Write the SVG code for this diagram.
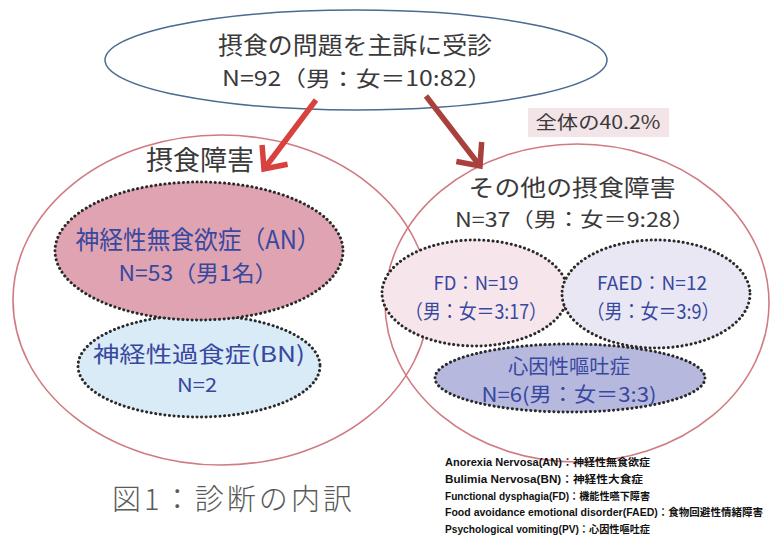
<svg xmlns="http://www.w3.org/2000/svg" width="774" height="535" viewBox="0 0 774 535">
<defs>
<style>
.jp{font-family:"Noto Sans CJK JP","Noto Sans",sans-serif;}
.gray{fill:#3a3a3a;}
.blue{fill:#3848a0;}
.dot{stroke:#2a2a2a;stroke-width:3;stroke-dasharray:0.1 4.5;stroke-linecap:round;}
.big{fill:none;stroke:#d07a82;stroke-width:1.6;}
.leg{font-family:"Liberation Sans","Noto Sans CJK JP",sans-serif;font-size:10px;font-weight:bold;fill:#111;}
</style>
<marker id="chevL" markerUnits="userSpaceOnUse" markerWidth="44" markerHeight="44" refX="21" refY="22" orient="auto" viewBox="0 0 44 44">
<path d="M3,6 L21,22 L3,38" fill="none" stroke="#d8423e" stroke-width="5.5" stroke-linejoin="miter"/>
</marker>
<marker id="chevR" markerUnits="userSpaceOnUse" markerWidth="44" markerHeight="44" refX="21" refY="22" orient="auto" viewBox="0 0 44 44">
<path d="M3,6 L21,22 L3,38" fill="none" stroke="#a8403c" stroke-width="5.5" stroke-linejoin="miter"/>
</marker>
</defs>
<rect width="774" height="535" fill="#ffffff"/>

<g id="top">
<ellipse cx="356" cy="60" rx="251" ry="50" fill="#ffffff" stroke="#4a6a90" stroke-width="1.5"/>
<text class="jp gray" x="355" y="54" font-size="24" text-anchor="middle" textLength="274" lengthAdjust="spacingAndGlyphs">摂食の問題を主訴に受診</text>
<text class="jp gray" x="357" y="86" font-size="21" text-anchor="middle" textLength="270" lengthAdjust="spacingAndGlyphs">N=92（男：女＝10:82）</text>
</g>

<g id="ed-group">
<ellipse class="big" cx="221" cy="300" rx="208" ry="165"/>
<text class="jp gray" x="200" y="170" font-size="27" text-anchor="middle">摂食障害</text>
</g>

<g id="other-group">
<ellipse class="big" cx="577" cy="303" rx="192" ry="159"/>
<text class="jp gray" x="572" y="196" font-size="23" text-anchor="middle" textLength="207" lengthAdjust="spacingAndGlyphs">その他の摂食障害</text>
<text class="jp gray" x="575" y="227" font-size="20" text-anchor="middle" textLength="240" lengthAdjust="spacingAndGlyphs">N=37（男：女＝9:28）</text>
</g>

<g id="pct">
<rect x="528" y="108" width="141" height="29" fill="#f3e4e8"/>
<text class="jp gray" x="598" y="129" font-size="18" text-anchor="middle" textLength="125" lengthAdjust="spacingAndGlyphs">全体の40.2%</text>
</g>

<g id="bn">
<ellipse class="dot" cx="199" cy="366" rx="121" ry="51" fill="#d9ebf6"/>
<text class="jp blue" x="199" y="362" font-size="22" text-anchor="middle" textLength="212" lengthAdjust="spacingAndGlyphs">神経性過食症(BN)</text>
<text class="jp blue" x="197" y="392" font-size="19" text-anchor="middle" textLength="40" lengthAdjust="spacingAndGlyphs">N=2</text>
</g>

<g id="an">
<ellipse class="dot" cx="199" cy="251" rx="144" ry="69" fill="#dfa3b2"/>
<text class="jp blue" x="198" y="249" font-size="25" text-anchor="middle" textLength="245" lengthAdjust="spacingAndGlyphs">神経性無食欲症（AN）</text>
<text class="jp blue" x="198" y="281" font-size="22" text-anchor="middle" textLength="159" lengthAdjust="spacingAndGlyphs">N=53（男1名）</text>
</g>

<g id="fd">
<ellipse class="dot" cx="475" cy="293" rx="93" ry="53" fill="#f6e6ec"/>
<text class="jp blue" x="476" y="290" font-size="19" text-anchor="middle" textLength="85" lengthAdjust="spacingAndGlyphs">FD：N=19</text>
<text class="jp blue" x="476" y="319" font-size="20" text-anchor="middle" textLength="142" lengthAdjust="spacingAndGlyphs">（男：女＝3:17）</text>
</g>

<g id="faed">
<ellipse class="dot" cx="656" cy="294" rx="94" ry="54" fill="#e9e7f3"/>
<text class="jp blue" x="652" y="290" font-size="19" text-anchor="middle" textLength="110" lengthAdjust="spacingAndGlyphs">FAED：N=12</text>
<text class="jp blue" x="653" y="319" font-size="20" text-anchor="middle" textLength="133" lengthAdjust="spacingAndGlyphs">（男：女＝3:9）</text>
</g>

<g id="pv">
<ellipse class="dot" cx="570" cy="378" rx="135" ry="34" fill="#b6b8de"/>
<text class="jp blue" x="569" y="374" font-size="20" text-anchor="middle" textLength="122" lengthAdjust="spacingAndGlyphs">心因性嘔吐症</text>
<text class="jp blue" x="569" y="402" font-size="20" text-anchor="middle" textLength="175" lengthAdjust="spacingAndGlyphs">N=6(男：女＝3:3)</text>
</g>

<g id="connectors">
<line x1="316" y1="100" x2="264" y2="169" stroke="#d8423e" stroke-width="5.5" marker-end="url(#chevL)"/>
<line x1="426" y1="96" x2="480" y2="166" stroke="#a8403c" stroke-width="5.5" marker-end="url(#chevR)"/>
</g>

<g id="caption">
<text class="jp" x="112" y="510" font-size="29" font-weight="300" fill="#5a5a5a" textLength="240" lengthAdjust="spacing">図1：診断の内訳</text>
</g>

<g id="legend">
<text class="leg" x="445" y="466" textLength="205" lengthAdjust="spacingAndGlyphs">Anorexia Nervosa(AN)：神経性無食欲症</text>
<text class="leg" x="445" y="483" textLength="198" lengthAdjust="spacingAndGlyphs">Bulimia Nervosa(BN)：神経性大食症</text>
<text class="leg" x="445" y="500" textLength="205" lengthAdjust="spacingAndGlyphs">Functional dysphagia(FD)：機能性嚥下障害</text>
<text class="leg" x="445" y="516" textLength="318" lengthAdjust="spacingAndGlyphs">Food avoidance emotional disorder(FAED)：食物回避性情緒障害</text>
<text class="leg" x="445" y="533" textLength="205" lengthAdjust="spacingAndGlyphs">Psychological vomiting(PV)：心因性嘔吐症</text>
</g>
</svg>
